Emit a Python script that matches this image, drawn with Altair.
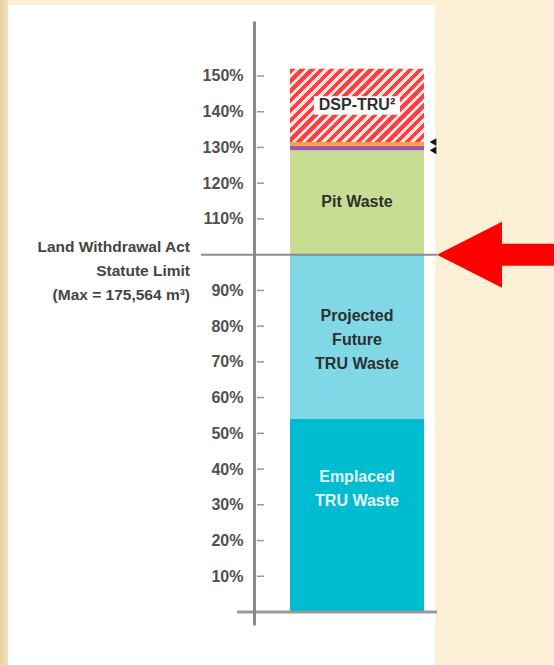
import altair as alt
import pandas as pd

# ---------------- data ----------------
period = ["Before VoR"]
segments = ["Emplaced TRU Waste", "Projected Future TRU Waste", "Pit Waste",
            "Thin layer (purple)", "Thin layer (orange)", "DSP-TRU"]
shares = [54.0, 46.0, 29.2, 1.3, 1.0, 20.5]          # % of statute limit
seg_labels = ["Emplaced\nTRU Waste", "Projected\nFuture\nTRU Waste", "Pit Waste",
              "", "", "DSP-TRU\u00b2"]
seg_colors = ["#00BCD1", "#80D8E6", "#C7DD92", "#A54FB0", "#F5A33A", "#FF4040"]
limit_pct = [100]
limit_text = ["Land Withdrawal Act\nStatute Limit\n(Max = 175,564 m\u00b3)"]
tick_pct = [10, 20, 30, 40, 50, 60, 70, 80, 90, 100, 110, 120, 130, 140, 150]
tick_shown = [v for v in tick_pct if v != 100]

ends = []
acc = 0.0
for s in shares:
    acc += s
    ends.append(acc)
starts = [e - s for e, s in zip(ends, shares)]
df = pd.DataFrame({
    "period": period * len(segments),
    "segment": segments,
    "start": starts,
    "end": ends,
    "mid": [(a + b) / 2 for a, b in zip(starts, ends)],
    "label": seg_labels,
})
limit_df = pd.DataFrame({"limit": limit_pct, "text": limit_text})
tick_df = pd.DataFrame({"tick": tick_shown})
# pointers aim at the outer edges of the two thin layers
pointer_df = pd.DataFrame({"edge": [ends[4], starts[3]]})

# ---------------- layout / style ----------------
FONT = "Liberation Sans, Arial, sans-serif"
FS = 16
W, H = 183, 604
BAR_W = 134.0
PX_PER_PCT = 536 / 150.0

y_scale = alt.Scale(domain=[-3.638, 165.39], nice=False, zero=False)
y_axis = alt.Axis(values=tick_shown, labelExpr="datum.value + '%'", ticks=False,
                  grid=False, domainColor="#8a8a8a", domainWidth=3, labelPadding=11,
                  labelFont=FONT, labelFontSize=FS, labelFontWeight="bold",
                  labelColor="#505050", title=None, zindex=1)
x_scale = alt.Scale(domain=period, paddingInner=0, paddingOuter=0.18284, align=0.7347)
x_axis = alt.Axis(domain=False, ticks=False, labelAngle=0, labelFont=FONT,
                  labelFontSize=FS, labelFontWeight="bold", labelColor="#444444",
                  labelPadding=15, labelBaseline="middle", title=None)


def X(field="period:N"):
    return alt.X(field, scale=x_scale, axis=x_axis)


def Y(field):
    return alt.Y(field, scale=y_scale, axis=y_axis)


# background pieces
strip = alt.Chart(limit_df).mark_rect(
    color=alt.LinearGradient(gradient="linear", x1=0, y1=0, x2=1, y2=0,
                             stops=[alt.GradientStop(color="#E9D19C", offset=0),
                                    alt.GradientStop(color="#F5E3BC", offset=1)])
).encode(x=alt.value(-254), x2=alt.value(-246), y=alt.value(-21), y2=alt.value(644))

panel = alt.Chart(limit_df).mark_rect(color="white").encode(
    x=alt.value(-246), x2=alt.value(181), y=alt.value(-16), y2=alt.value(644))

# stacked bar (all but DSP)
bars = alt.Chart(df).transform_filter(alt.datum.segment != "DSP-TRU").mark_bar(
    strokeWidth=0).encode(
    x=X(), y=Y("start:Q"), y2="end:Q",
    color=alt.Color("segment:N", scale=alt.Scale(domain=segments, range=seg_colors),
                    legend=None))

# DSP-TRU hatched segment (diagonal stripes via a hard-stop gradient)
dsp_h = shares[-1] * PX_PER_PCT
r = dsp_h / BAR_W
k = (1 + r) / (1 + r * r)
N = 21
stops = []
for i in range(N):
    stops += [alt.GradientStop(color="#FF3F3F", offset=i / N),
              alt.GradientStop(color="#FF3F3F", offset=(i + 0.55) / N),
              alt.GradientStop(color="#FFE4E4", offset=(i + 0.55) / N),
              alt.GradientStop(color="#FFE4E4", offset=(i + 1) / N)]
dsp = alt.Chart(df).transform_filter(alt.datum.segment == "DSP-TRU").mark_bar(
    strokeWidth=0,
    color=alt.LinearGradient(gradient="linear", x1=0, y1=0, x2=k, y2=k * r, stops=stops)
).encode(x=X(), y=Y("start:Q"), y2="end:Q")

# white box behind DSP label
box_path = "M-1,-0.2143L1,-0.2143L1,0.2143L-1,0.2143Z"
dsp_box = alt.Chart(df).transform_filter(alt.datum.segment == "DSP-TRU").mark_point(
    shape=box_path, filled=True, color="white", opacity=1, size=86 * 86, strokeWidth=0
).encode(x=X(), y=Y("mid:Q"))

# limit line and base line
limit_rule = alt.Chart(limit_df).mark_rule(color="#8c8c8c", strokeWidth=2).encode(
    y=Y("limit:Q"), x=alt.value(-53), x2=alt.value(183))
base_rule = alt.Chart(pd.DataFrame({"base": [0]})).mark_rule(
    color="#999999", strokeWidth=3).encode(y=Y("base:Q"), x=alt.value(-17), x2=alt.value(183))
ticks = alt.Chart(tick_df).mark_rule(color="#9a9a9a", strokeWidth=1.5).encode(
    y=Y("tick:Q"), x=alt.value(3), x2=alt.value(10))

# labels in bar
text_style = dict(font=FONT, fontSize=FS, fontWeight="bold", lineBreak="\n",
                  lineHeight=24, baseline="middle", align="center")
single_labels = alt.Chart(df).transform_filter(
    "datum.segment == 'Pit Waste' || datum.segment == 'DSP-TRU'").mark_text(
    color="#2f2f2f", **text_style).encode(x=X(), y=Y("mid:Q"), text="label:N")
proj_label = alt.Chart(df).transform_filter(
    alt.datum.segment == "Projected Future TRU Waste").mark_text(
    color="#2f2f2f", dy=-21, **text_style).encode(x=X(), y=Y("mid:Q"), text="label:N")
white_labels = alt.Chart(df).transform_filter(
    alt.datum.segment == "Emplaced TRU Waste").mark_text(
    color="#E4F8FA", dy=-39, **text_style).encode(x=X(), y=Y("mid:Q"), text="label:N")

# statute-limit annotation
limit_label = alt.Chart(limit_df).mark_text(
    font=FONT, fontSize=15.5, fontWeight="bold", color="#444444", lineBreak="\n",
    lineHeight=24, baseline="middle", align="right", dy=-8).encode(
    x=alt.value(-64), y=Y("limit:Q"), text="text:N")

# small pointers to thin layers
pointers = alt.Chart(pointer_df).mark_point(
    shape="triangle-left", filled=True, color="#151515", opacity=1, size=60, strokeWidth=0
).encode(x=alt.value(179), y=Y("edge:Q"))

# big red arrow pointing at the limit
arrow_path = ("M-1,0L0.111,-0.564L0.111,-0.188L1,-0.188L1,0.188L0.111,0.188L0.111,0.564Z")
arrow = alt.Chart(limit_df).mark_point(
    shape=arrow_path, filled=True, color="#FF0000", opacity=1, size=117 * 117, strokeWidth=0
).encode(x=alt.value(241.5), y=Y("limit:Q"))

chart = alt.layer(
    strip, panel, bars, dsp, dsp_box, limit_rule, base_rule, ticks,
    single_labels, proj_label, white_labels, limit_label, pointers, arrow
).properties(
    width=W, height=H,
    padding={"left": 254, "top": 21, "right": 117, "bottom": 40},
    autosize=alt.AutoSizeParams(type="none"),
    background="#FEEFD7",
).configure_view(strokeWidth=0)

chart.save("out.html", embed_options={"renderer": "svg", "actions": False})
